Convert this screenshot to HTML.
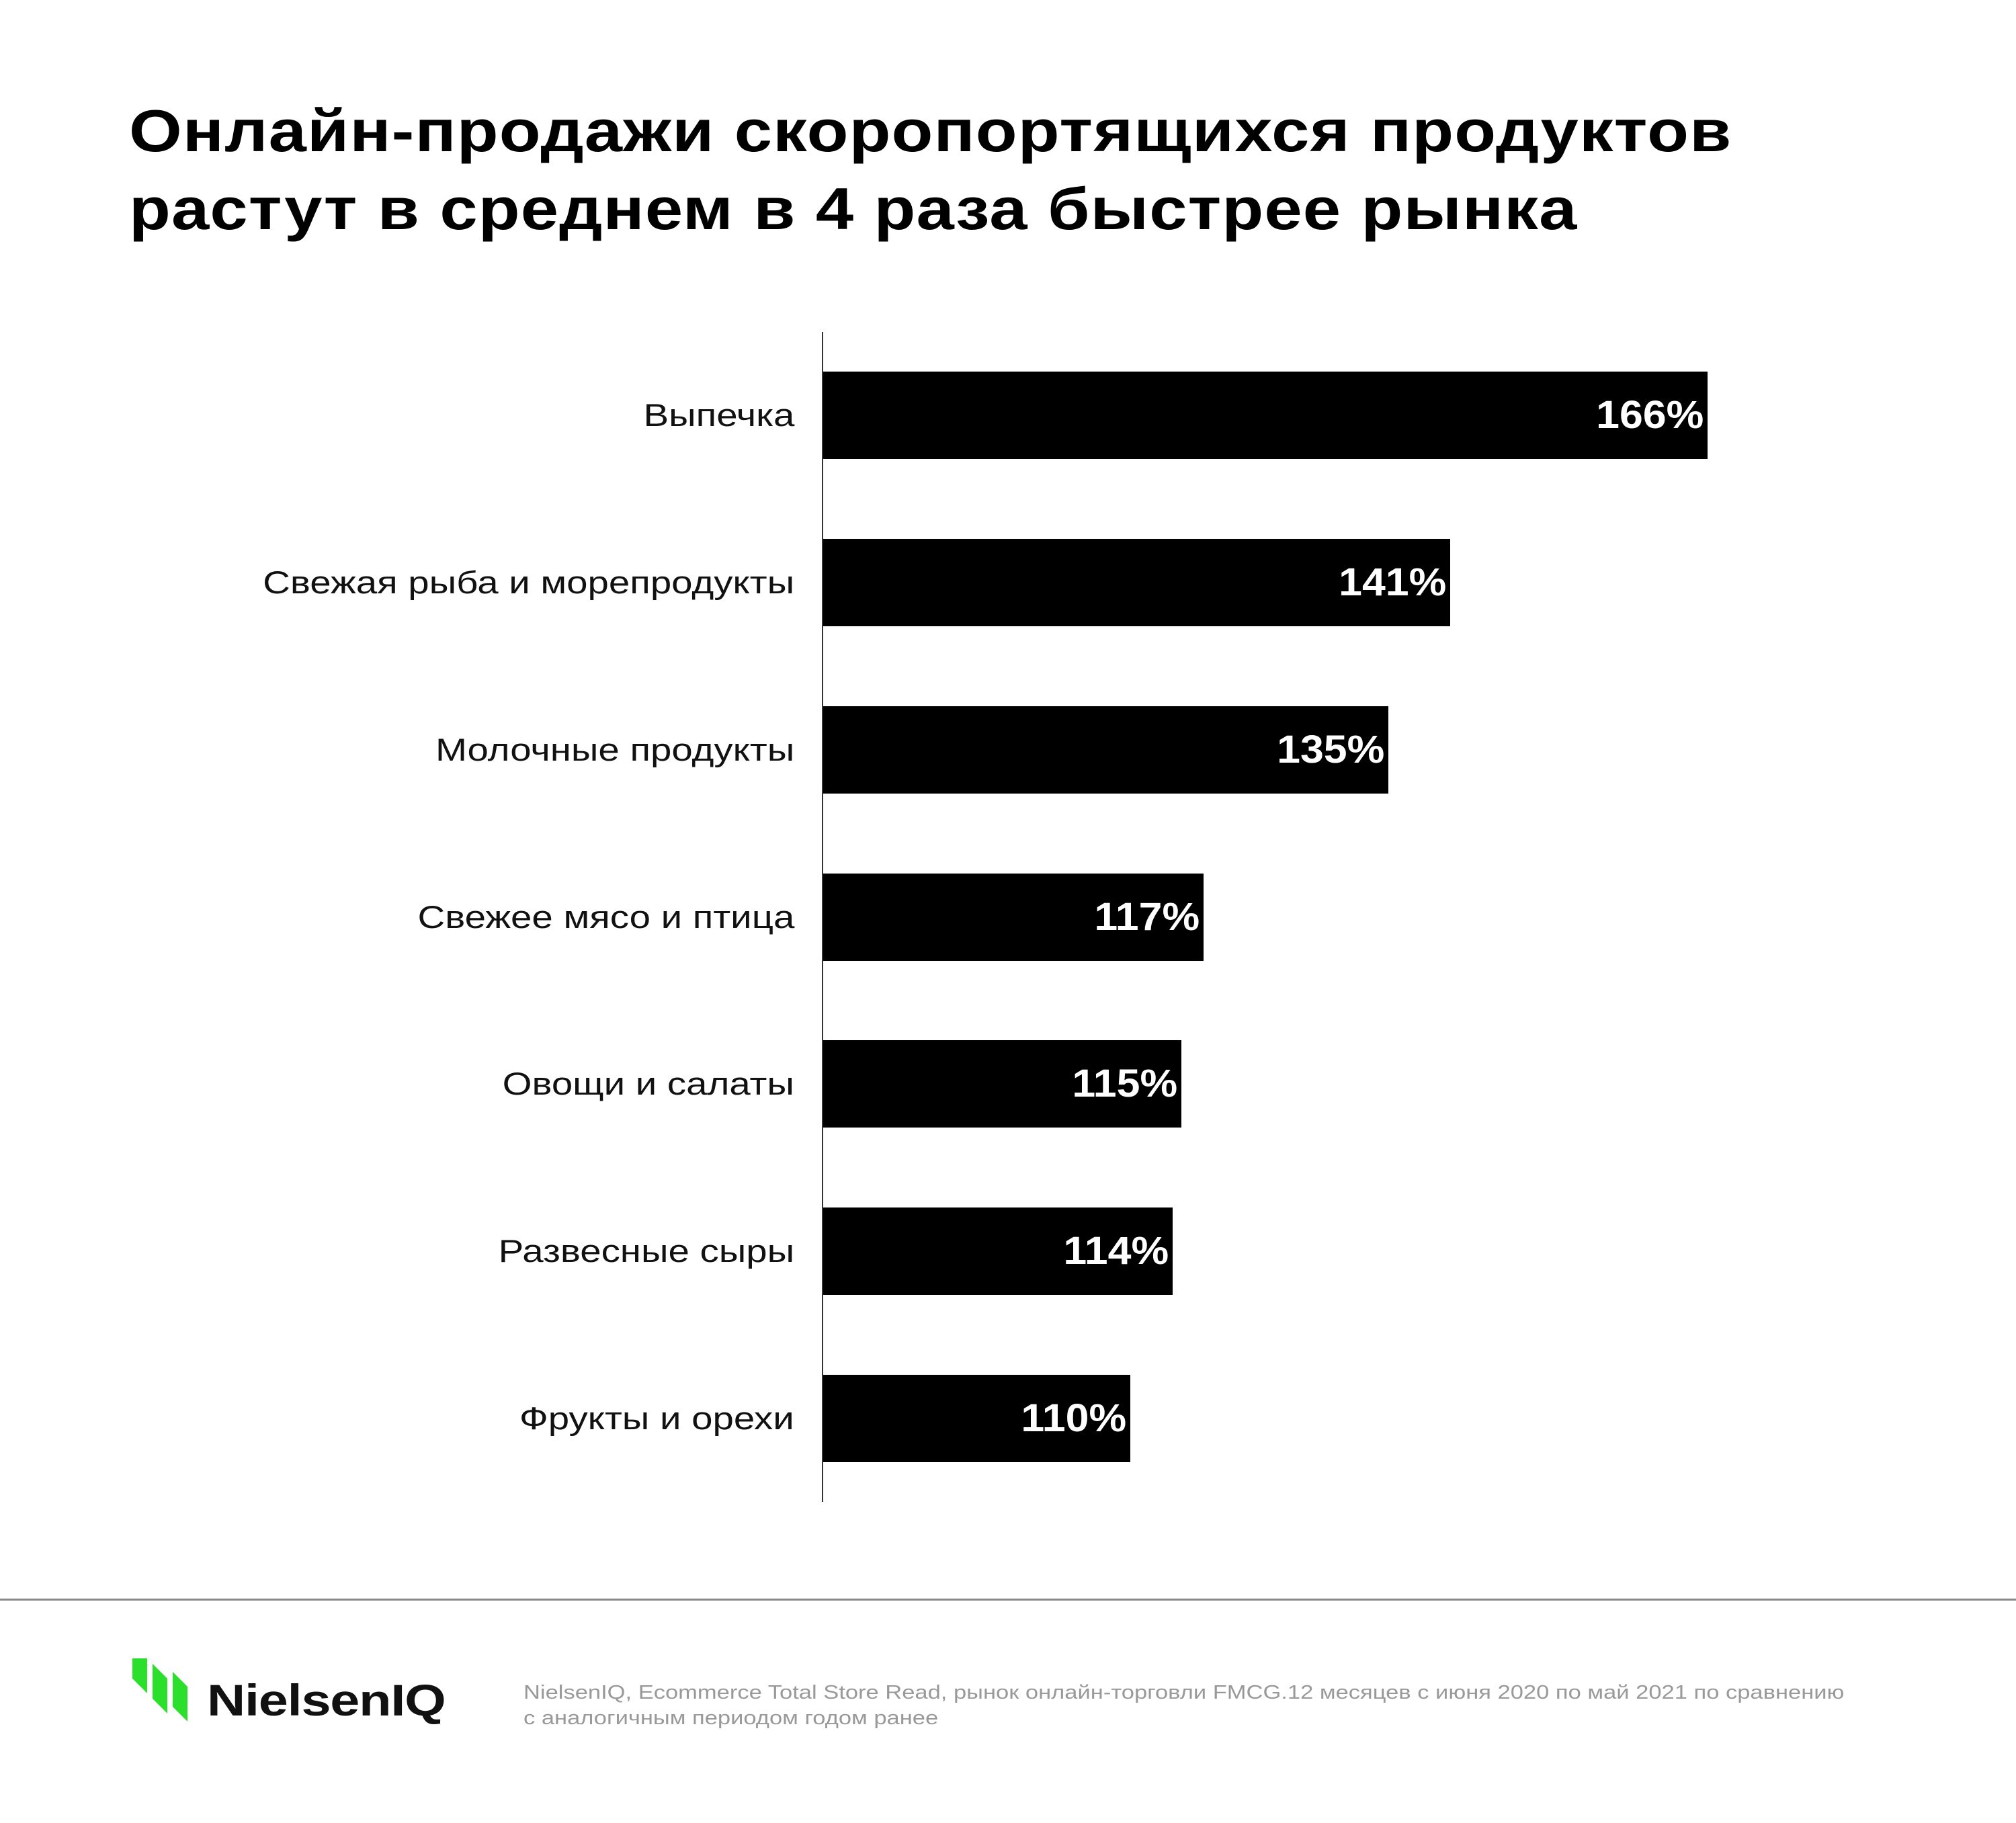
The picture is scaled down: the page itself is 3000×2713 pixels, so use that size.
<!DOCTYPE html>
<html><head><meta charset="utf-8"><style>
html,body{margin:0;padding:0;background:#fff;}
body{width:3000px;height:2713px;position:relative;overflow:hidden;font-family:"Liberation Sans","DejaVu Sans",sans-serif;}
.title{position:absolute;left:192px;top:137px;font-size:88px;font-weight:bold;line-height:116px;color:#000;letter-spacing:1px;transform:scaleX(1.15);transform-origin:left top;white-space:nowrap;}
.axis{position:absolute;left:1223px;top:494px;width:2px;height:1741px;background:#333;}
.bar{position:absolute;left:1225px;height:130px;background:#000;}
.val{position:absolute;right:6px;top:0;line-height:130px;color:#fff;font-weight:bold;font-size:58px;transform:scaleX(1.08);transform-origin:right center;}
.lab{position:absolute;right:1818px;font-size:47px;line-height:130px;color:#111;white-space:nowrap;transform:scaleX(1.2);transform-origin:right center;}
.sep{position:absolute;left:0;top:2379px;width:3000px;height:3px;background:#888;}
.note{position:absolute;left:779px;top:2500px;font-size:29px;line-height:38px;color:#999;white-space:nowrap;transform:scaleX(1.19);transform-origin:left top;}
.logo{position:absolute;left:197px;top:2468px;}
.logotext{position:absolute;left:308px;top:2492px;font-size:66px;font-weight:bold;color:#111;letter-spacing:-1px;transform:scaleX(1.2);transform-origin:left top;}
</style></head><body>
<div class="title">Онлайн-продажи скоропортящихся продуктов<br>растут в среднем в 4 раза быстрее рынка</div>
<div class="axis"></div>

<div class="lab" style="top:553px">Выпечка</div>
<div class="bar" style="top:553px;width:1316px"><span class="val">166%</span></div>
<div class="lab" style="top:802px">Свежая рыба и морепродукты</div>
<div class="bar" style="top:802px;width:933px"><span class="val">141%</span></div>
<div class="lab" style="top:1051px">Молочные продукты</div>
<div class="bar" style="top:1051px;width:841px"><span class="val">135%</span></div>
<div class="lab" style="top:1300px">Свежее мясо и птица</div>
<div class="bar" style="top:1300px;width:566px"><span class="val">117%</span></div>
<div class="lab" style="top:1548px">Овощи и салаты</div>
<div class="bar" style="top:1548px;width:533px"><span class="val">115%</span></div>
<div class="lab" style="top:1797px">Развесные сыры</div>
<div class="bar" style="top:1797px;width:520px"><span class="val">114%</span></div>
<div class="lab" style="top:2046px">Фрукты и орехи</div>
<div class="bar" style="top:2046px;width:457px"><span class="val">110%</span></div>

<div class="sep"></div>
<svg class="logo" width="100" height="100" viewBox="0 0 100 100">
<polygon points="0,0 22,0 22,52 0,30" fill="#2cdf2c"/>
<polygon points="30,8 52,30 52,82 30,60" fill="#2cdf2c"/>
<polygon points="60,20 82,42 82,94 60,72" fill="#2cdf2c"/>
</svg>
<div class="logotext">NielsenIQ</div>
<div class="note">NielsenIQ, Ecommerce Total Store Read, рынок онлайн-торговли FMCG.12 месяцев с июня 2020 по май 2021 по сравнению<br>с аналогичным периодом годом ранее</div>
</body></html>
